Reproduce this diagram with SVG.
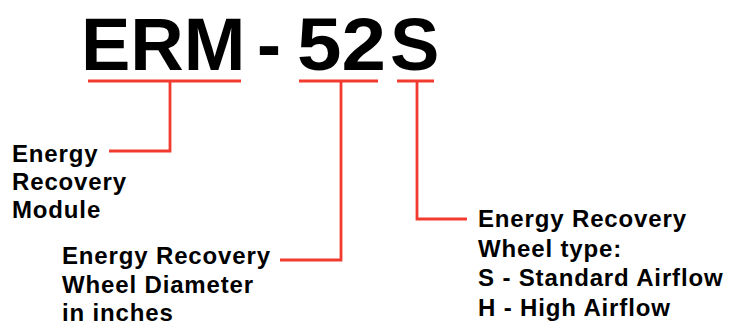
<svg xmlns="http://www.w3.org/2000/svg" width="745" height="324" viewBox="0 0 745 324">
<style>
.big{font-family:"Liberation Sans",Arial,sans-serif;font-weight:bold;font-size:74px;fill:#000}
.lbl{font-family:"Liberation Sans",Arial,sans-serif;font-weight:bold;font-size:24px;letter-spacing:0.85px;fill:#000}
.ln{fill:none;stroke:#f23a2e;stroke-width:2.8}
</style>
<rect width="745" height="324" fill="#fff"/>
<g id="code">
<text class="big" x="81" y="70">ERM</text>
<text class="big" x="257" y="70" textLength="24" lengthAdjust="spacingAndGlyphs">-</text>
<text class="big" x="297" y="70" textLength="89" lengthAdjust="spacingAndGlyphs">52</text>
<text class="big" x="390" y="70">S</text>
</g>
<g id="connectors">
<path class="ln" d="M88 81H241M170 81V151H109"/>
<path class="ln" d="M299 81H378M341 81V260H280"/>
<path class="ln" d="M397 81H434M417 81V219H467"/>
</g>
<g id="label-erm">
<text class="lbl" x="12" y="162">Energy</text>
<text class="lbl" x="12" y="190">Recovery</text>
<text class="lbl" x="12" y="218">Module</text>
</g>
<g id="label-diameter">
<text class="lbl" x="62" y="264">Energy Recovery</text>
<text class="lbl" x="62" y="293">Wheel Diameter</text>
<text class="lbl" x="62" y="321">in inches</text>
</g>
<g id="label-type">
<text class="lbl" x="478" y="227">Energy Recovery</text>
<text class="lbl" x="478" y="256.5">Wheel type:</text>
<text class="lbl" x="478" y="286">S - Standard Airflow</text>
<text class="lbl" x="478" y="315.5">H - High Airflow</text>
</g>
</svg>
